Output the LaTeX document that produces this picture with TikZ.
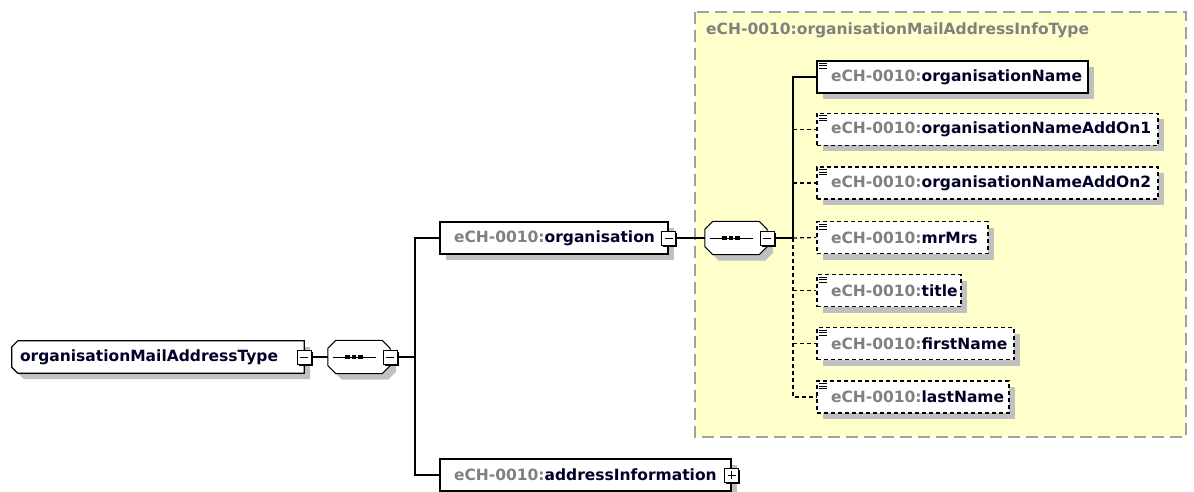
\documentclass[tikz,border=0pt]{standalone}
\usepackage{fontspec}
\setmainfont{DejaVu Sans}
\usetikzlibrary{shadows}
\definecolor{pfx}{RGB}{128,128,128}
\definecolor{nm}{RGB}{0,0,40}
\definecolor{grpfill}{RGB}{255,255,204}
\definecolor{grpline}{RGB}{160,160,160}
\definecolor{shd}{RGB}{192,192,192}
\newcommand{\ech}[2]{\makebox[#1][l]{{\color{pfx}eCH-0010:}{\color{nm}#2}}}
% octagon-like outline round a node: #1 node, #2 chamfer of right corners, #3 chamfer of left corners
\newcommand{\octpath}[3]{([xshift=#3]#1.north west) -- ([xshift=-#2]#1.north east) -- ([yshift=-#2]#1.north east)
  -- ([yshift=#2]#1.south east) -- ([xshift=-#2]#1.south east) -- ([xshift=#3]#1.south west)
  -- ([yshift=#3]#1.south west) -- ([yshift=-#3]#1.north west) -- cycle}
\newcommand{\octshape}[4]{%
  \fill[shd,transform canvas={xshift=6pt,yshift=-6pt}] \octpath{#1}{#2}{#3};
  \draw[fill=white,line width=#4] \octpath{#1}{#2}{#3};}
\newcommand{\seqdots}[1]{%
  \draw[line width=1pt] ([xshift=5pt]#1.west) -- ([xshift=-14pt]#1.east);
  \foreach \k in {-11.5,-5,1.5}
    \fill ([xshift=\k pt-2.25pt,yshift=-2.25pt]#1.center) rectangle ++(4.5,-4.5);}
\pgfdeclarelayer{back}
\pgfdeclarelayer{shapes}
\pgfsetlayers{back,shapes,main}
\begin{document}
\begin{tikzpicture}[x=1pt,y=-1pt,font=\bfseries\fontsize{15.5}{18}\selectfont,
  conn/.style={line width=1.2pt,draw=black},
  opconn/.style={conn,dash pattern=on 4pt off 3pt},
  boxshadow/.style={drop shadow={shadow xshift=6pt,shadow yshift=-6pt,fill=shd,opacity=1}},
  elembase/.style={rectangle,draw=black,line width=1.2pt,fill=white,minimum height=32pt,
    inner xsep=14pt,inner ysep=0pt,boxshadow},
  elem/.style={elembase,
    path picture={\foreach \d in {2.5,5,7.5}
      \draw[solid,line width=1pt] ([xshift=2pt,yshift=-\d pt]path picture bounding box.north west) -- ++(8,0);}},
  opt/.style={elem,dash pattern=on 4pt off 3pt},
  smallbox/.style={rectangle,draw=black,line width=1pt,fill=white,minimum size=14pt,inner sep=0pt,
    drop shadow={shadow xshift=1.5pt,shadow yshift=-1.5pt,fill=black,opacity=1}},
  mbox/.style={smallbox,
    path picture={\draw[line width=1pt] ([xshift=3pt]path picture bounding box.west) -- ([xshift=-3pt]path picture bounding box.east);}},
  pbox/.style={smallbox,
    path picture={\draw[line width=1pt] ([xshift=3pt]path picture bounding box.west) -- ([xshift=-3pt]path picture bounding box.east);
      \draw[line width=1pt] ([yshift=3pt]path picture bounding box.south) -- ([yshift=-3pt]path picture bounding box.north);}},
  seqnode/.style={rectangle,minimum width=62pt,minimum height=33pt,inner sep=0pt},
  rootnode/.style={rectangle,minimum width=292pt,minimum height=32pt,inner xsep=8pt,inner ysep=0pt},
  grp/.style={fill=grpfill,draw=grpline,line width=2pt,dash pattern=on 12pt off 6pt}
]
\useasboundingbox (0,0) rectangle (1194,492);
% group
\begin{pgfonlayer}{back}
\draw[grp] (695,12) rectangle (1186,437);
\end{pgfonlayer}
\node[anchor=west,text=pfx,inner sep=0pt] (gt) at (706,30) {eCH-0010:organisationMailAddressInfoType};
% root
\node[rootnode] (root) at (158,357) {\makebox[276pt][l]{\color{nm}organisationMailAddressType}};
\node[seqnode] (s1) at (359,357) {};
\node[seqnode] (s2) at (736,238) {};
\begin{pgfonlayer}{shapes}
\octshape{root}{0pt}{6pt}{1.2pt}
\octshape{s1}{8pt}{8pt}{1pt}
\octshape{s2}{8pt}{8pt}{1pt}
\seqdots{s1}
\seqdots{s2}
\end{pgfonlayer}
\node[mbox] (rm) at (root.east) {};
\node[mbox] (s1m) at (s1.east) {};
\coordinate (j1) at (415,357);
% level 1
\node[elembase] (org) at (554,238) {\ech{200pt}{organisation}};
\node[mbox] (om) at (org.east) {};
\node[elembase] (addr) at (585.5,475) {\ech{263pt}{addressInformation}};
\node[pbox] (am) at (addr.east) {};
\node[mbox] (s2m) at (s2.east) {};
\coordinate (j2) at (793,238);
% children
\node[elem] (c1) at (952.5,77) {\ech{243pt}{organisationName}};
\node[opt] (c2) at (987.5,129.5) {\ech{313pt}{organisationNameAddOn1}};
\node[opt] (c3) at (987.5,183) {\ech{313pt}{organisationNameAddOn2}};
\node[opt] (c4) at (902.5,237.5) {\ech{143pt}{mrMrs}};
\node[opt] (c5) at (889,290.5) {\ech{116pt}{title}};
\node[opt] (c6) at (915.5,343.5) {\ech{169pt}{firstName}};
\node[opt] (c7) at (913,397) {\ech{164pt}{lastName}};
% connectors
\draw[conn] (rm) -- (s1);
\draw[conn] (s1m) -- (j1);
\draw[conn] (j1) |- (org);
\draw[conn] (j1) |- (addr);
\draw[conn] (om) -- (s2);
\draw[conn] (s2m) -- (j2);
\draw[opconn] (j2) -- (j2 |- c7.west) -- (c7.west);
\draw[opconn] (j2 |- c2.west) -- (c2.west);
\draw[opconn] (j2 |- c3.west) -- (c3.west);
\draw[opconn] (j2) -- (c4.west);
\draw[opconn] (j2 |- c5.west) -- (c5.west);
\draw[opconn] (j2 |- c6.west) -- (c6.west);
\draw[conn] (j2) |- (c1);
\end{tikzpicture}
\end{document}
